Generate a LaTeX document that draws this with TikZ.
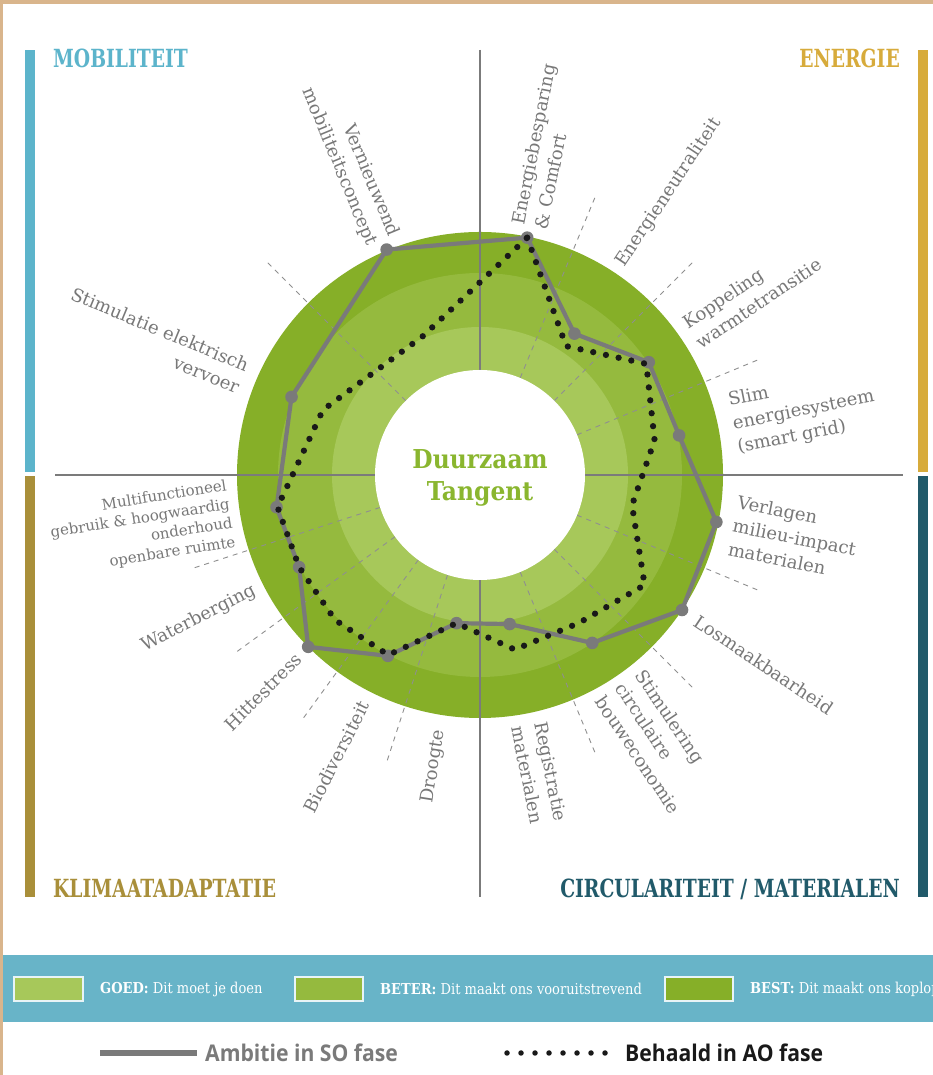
\documentclass[tikz,border=0pt]{standalone}
\usepackage{fontspec}
\setmainfont{DejaVu Serif}
\newfontfamily\slabcond[FakeStretch=0.75]{DejaVu Serif}
\newfontfamily\slabband[FakeStretch=0.87]{DejaVu Serif}
\newfontfamily\slabtitle[FakeStretch=0.9]{DejaVu Serif}
\newfontfamily\legsans[FakeStretch=0.92]{Open Sans}
\usepackage{tikz}
\usetikzlibrary{positioning}
\definecolor{woodtan}{HTML}{D9B58C}
\definecolor{ringbest}{HTML}{86AF28}
\definecolor{ringbeter}{HTML}{95BA3E}
\definecolor{ringgoed}{HTML}{A7C85A}
\definecolor{axisgray}{HTML}{7B7B7B}
\definecolor{labgray}{HTML}{787878}
\definecolor{ambgray}{HTML}{7A7A7A}
\definecolor{mobblue}{HTML}{5CB4CB}
\definecolor{energold}{HTML}{D7AB3B}
\definecolor{klimolive}{HTML}{A98F3A}
\definecolor{circteal}{HTML}{215A6A}
\definecolor{bandblue}{HTML}{68B4C8}
\definecolor{titlegreen}{HTML}{8AB62F}
\tikzset{font={\fontsize{18pt}{24pt}\selectfont}}
\tikzset{
lab/.style={text=labgray,inner sep=0pt,font={\fontsize{18pt}{24pt}\selectfont}},
labR/.style={lab,anchor=west,align=left},
labL/.style={lab,anchor=east,align=right},
quadtitle/.style={inner sep=0pt,font={\slabcond\bfseries\fontsize{25pt}{28pt}\selectfont}},
bandtext/.style={text=white,inner sep=0pt,anchor=west,font={\slabband\fontsize{15pt}{18pt}\selectfont}},
swatch/.style={draw=white!85!bandblue,line width=1.5pt},
legtext/.style={inner sep=0pt,font={\legsans\bfseries\fontsize{23pt}{25pt}\selectfont}},
axisline/.style={draw=axisgray,line width=1.6pt},
spoke/.style={draw=axisgray!85,line width=0.9pt,dash pattern=on 5pt off 5pt},
ambline/.style={draw=ambgray,line width=4.2pt,line join=round},
behline/.style={draw=black!90,line width=6.3pt,line cap=round,dash pattern=on 0pt off 13pt}
}
\begin{document}
\begin{tikzpicture}[x=1pt,y=1pt]
\useasboundingbox (0,0) rectangle (933,1075);
\fill[woodtan] (0,0) rectangle (933,1075);
\fill[white] (3,0) rectangle (933,1071);

%quadrant bars and titles
\fill[mobblue] (25,603) rectangle (35,1025);
\fill[klimolive] (25,178) rectangle (35,599);
\fill[energold] (918,603) rectangle (928,1025);
\fill[circteal] (918,178) rectangle (928,599);
\node[quadtitle,text=mobblue,anchor=base west] (tmob) at (53,1007) {MOBILITEIT};
\node[quadtitle,text=energold,anchor=base east] (tene) at (900,1007) {ENERGIE};
\node[quadtitle,text=klimolive,anchor=base west] (tklim) at (53,177) {KLIMAATADAPTATIE};
\node[quadtitle,text=circteal,anchor=base east] (tcirc) at (900,177) {CIRCULARITEIT / MATERIALEN};

\begin{scope}[shift={(480,600)}]
%rings
\fill[ringbest] (0,0) circle (243);
\fill[ringbeter] (0,0) circle (202);
\fill[ringgoed] (0,0) circle (148);
\draw[axisline] (-425,0) -- (423,0);
\draw[axisline] (0,425) -- (0,-422);
\foreach \a in {135,67.5,45,22.5,-22.5,-45,-67.5,198,216,234,252}
  \draw[spoke] (\a:105) -- (\a:303);
\fill[white] (0,0) circle (105);
\node[align=center,text=titlegreen,inner sep=0pt,font={\slabtitle\bfseries\fontsize{26pt}{32pt}\selectfont}] (dt) at (0,-3) {Duurzaam\\Tangent};

%labels
\node[labR,rotate=78.75] (lbesp) at (78.75:253) {Energiebesparing\\\& Comfort};
\node[labR,rotate=56.25] (lneut) at (56.25:252) {Energieneutraliteit};
\node[labR,rotate=33.75] (lkopp) at (33.75:254) {Koppeling\\warmtetransitie};
\node[labR,rotate=11.25] (lslim) at (11.25:258) {Slim\\energiesysteem\\(smart grid)};
\node[labR,rotate=-11.25] (lverl) at (-11.25:258) {Verlagen\\milieu-impact\\materialen};
\node[labR,rotate=-33.75] (llosm) at (-33.75:260) {Losmaakbaarheid};
\node[labR,rotate=-56.25] (lstim) at (-56.25:252) {Stimulering\\circulaire\\bouweconomie};
\node[labR,rotate=-78.75] (lregi) at (-78.75:254) {Registratie\\materialen};
\node[labL,rotate=-67.5] (lvern) at (112.5:254) {Vernieuwend\\mobiliteitsconcept};
\node[labL,rotate=-22.5] (lelek) at (157.5:256) {Stimulatie elektrisch\\vervoer};
\node[labL,rotate=9,font={\fontsize{15pt}{19pt}\selectfont}] (lmulti) at (189:252) {Multifunctioneel\\gebruik \& hoogwaardig\\onderhoud\\openbare ruimte};
\node[labL,rotate=27] (lwater) at (207:253) {Waterberging};
\node[labL,rotate=45] (lhitte) at (225:256) {Hittestress};
\node[labL,rotate=63] (lbio) at (243:255) {Biodiversiteit};
\node[labL,rotate=81] (ldroog) at (261:258) {Droogte};

%ambitie (SO) and behaald (AO)
\foreach \i/\a/\r in {1/112.5/244,2/78.75/242,3/56.25/170,4/33.75/203,5/11.25/203,6/-11.25/241,7/-33.75/243,8/-56.25/202,9/-78.75/152,10/-99/150,11/-117/203,12/-135/243,13/-153/203,14/-171/206,15/157.5/204}
  \coordinate (a\i) at (\a:\r);
\foreach \i/\a/\r in {1/112.5/150,2/78.75/242,3/56.25/155,4/33.75/200,5/11.25/178,6/-11.25/155,7/-33.75/198,8/-56.25/178,9/-78.75/178,10/-99/150,11/-117/202,12/-135/205,13/-153/203,14/-171/205,15/157.5/170}
  \coordinate (b\i) at (\a:\r);
\draw[ambline] (a1) -- (a2) -- (a3) -- (a4) -- (a5) -- (a6) -- (a7) -- (a8) -- (a9) -- (a10) -- (a11) -- (a12) -- (a13) -- (a14) -- (a15) -- cycle;
\foreach \i in {1,...,15}
  \fill[ambgray] (a\i) circle (6.3);
\draw[behline] (b2) -- (b3) -- (b4) -- (b5) -- (b6) -- (b7) -- (b8) -- (b9) -- (b10) -- (b11) -- (b12) -- (b13) -- (b14) -- (b15) -- (b1) -- (b2);
\end{scope}

%legend band
\fill[bandblue] (3,53) rectangle (933,120);
\draw[swatch,fill=ringgoed] (14,74) rectangle (83,98);
\draw[swatch,fill=ringbeter] (295,74) rectangle (363,98);
\draw[swatch,fill=ringbest] (665,74) rectangle (733,98);
\node[bandtext] (goed) at (100,86) {\textbf{GOED:} Dit moet je doen};
\node[bandtext] (beter) at (380,86) {\textbf{BETER:} Dit maakt ons vooruitstrevend};
\begin{scope}
\clip (3,53) rectangle (933,120);
\node[bandtext] (best) at (750,86) {\textbf{BEST:} Dit maakt ons koploper};
\end{scope}

%legend lines
\coordinate (ambA) at (100,22);
\coordinate (ambB) at (197,22);
\draw[ambline,line width=5.5pt] (ambA) -- (ambB);
\node[legtext,text=ambgray,anchor=base west] (lamb) at (205,13) {Ambitie in SO fase};
\coordinate (behA) at (507,22);
\coordinate (behB) at (605.5,22);
\draw[behline,line width=5.5pt,dash pattern=on 0pt off 14pt] (behA) -- (behB);
\node[legtext,text=black!90,anchor=base west] (lbeh) at (625,13) {Behaald in AO fase};
\end{tikzpicture}
\end{document}
